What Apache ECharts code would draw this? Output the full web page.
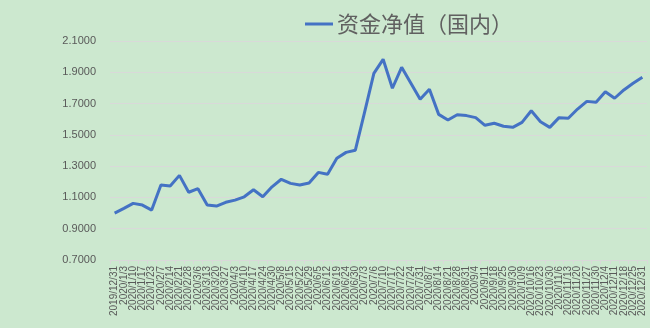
<!DOCTYPE html>
<html>
<head>
<meta charset="utf-8">
<script src="https://cdn.jsdelivr.net/npm/echarts@6/dist/echarts.min.js"></script>
<style>
html,body{margin:0;padding:0;background:#CCE8CF;}
#c{width:650px;height:328px;}
</style>
</head>
<body>
<div id="c"></div>
<script>
var categories = ['2019/12/31','2020/1/3','2020/1/10','2020/1/17','2020/1/23','2020/2/7','2020/2/14','2020/2/21','2020/2/28','2020/3/6',
'2020/3/13','2020/3/20','2020/3/27','2020/4/3','2020/4/10','2020/4/17','2020/4/24','2020/4/30','2020/5/8','2020/5/15',
'2020/5/22','2020/5/29','2020/6/5','2020/6/12','2020/6/19','2020/6/24','2020/6/30','2020/7/3','2020/7/6','2020/7/10',
'2020/7/17','2020/7/22','2020/7/24','2020/7/31','2020/8/7','2020/8/14','2020/8/21','2020/8/28','2020/8/31','2020/9/4',
'2020/9/11','2020/9/18','2020/9/25','2020/9/30','2020/10/9','2020/10/16','2020/10/23','2020/10/30','2020/11/6','2020/11/13',
'2020/11/20','2020/11/27','2020/11/30','2020/12/4','2020/12/11','2020/12/18','2020/12/25','2020/12/31'];
var navValues = [1.000,1.030,1.062,1.051,1.019,1.179,1.173,1.241,1.133,1.156,
1.051,1.045,1.069,1.083,1.104,1.149,1.104,1.168,1.216,1.190,
1.179,1.192,1.260,1.248,1.350,1.388,1.402,1.645,1.893,1.983,
1.798,1.932,1.830,1.727,1.791,1.631,1.595,1.629,1.623,1.610,
1.561,1.574,1.555,1.548,1.580,1.654,1.584,1.548,1.610,1.606,
1.665,1.714,1.708,1.776,1.734,1.787,1.830,1.868];
var seriesName = '资金净值（国内）';
var yMin = 0.7, yMax = 2.1, yStep = 0.2;

var chart = echarts.init(document.getElementById('c'), null, {renderer:'canvas'});
chart.setOption({
  backgroundColor: '#CCE8CF',
  animation: false,
  textStyle: {fontFamily: 'Liberation Sans, "Noto Sans CJK SC", sans-serif'},
  legend: {
    top: 13, left: 305, padding: 0,
    icon: 'rect', itemWidth: 28, itemHeight: 3,
    textStyle: {fontSize: 22, color: '#606060', fontFamily: '"Noto Sans CJK SC", sans-serif', padding: [0, 0, 0, -1]},
    data: [seriesName]
  },
  grid: {left: 110, right: 3, top: 41, bottom: 68, containLabel: false},
  xAxis: {
    type: 'category',
    data: categories,
    boundaryGap: true,
    axisLine: {lineStyle: {color: '#D9D9D9', width: 1}},
    axisTick: {show: true, interval: 0, length: 4, lineStyle: {color: '#D9D9D9'}},
    axisLabel: {interval: 0, rotate: 90, fontSize: 10, color: '#595959', margin: 6}
  },
  yAxis: {
    type: 'value',
    min: yMin, max: yMax, interval: yStep,
    axisLine: {show: false},
    axisTick: {show: false},
    axisLabel: {fontSize: 11, color: '#595959', margin: 14, formatter: function(v){return v.toFixed(4);}},
    splitLine: {lineStyle: {color: '#D9D9D9', width: 1}}
  },
  series: [{
    name: seriesName,
    type: 'line',
    data: navValues,
    symbol: 'none',
    smooth: false,
    lineStyle: {color: '#4472C4', width: 3},
    itemStyle: {color: '#4472C4'}
  }]
});
</script>
</body>
</html>
